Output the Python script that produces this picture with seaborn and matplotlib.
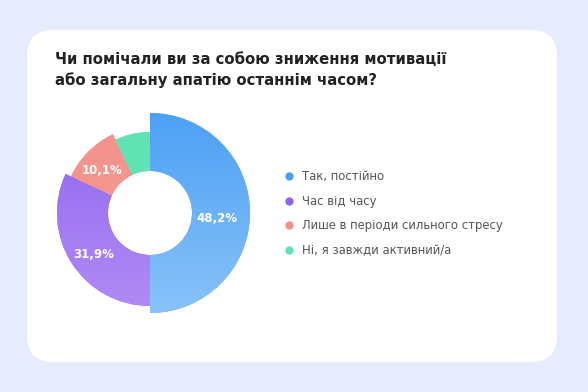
import matplotlib.pyplot as plt
import numpy as np
import seaborn as sns
from matplotlib.colors import LinearSegmentedColormap
from matplotlib.lines import Line2D
from matplotlib.patches import FancyBboxPatch

sns.set_theme(style='white')
plt.rcParams['font.family'] = ['DejaVu Sans']

title = 'Чи помічали ви за собою зниження мотивації\nабо загальну апатію останнім часом?'
answers = ['Так, постійно', 'Час від часу', 'Лише в періоди сильного стресу', 'Ні, я завжди активний/а']
pct_labels = ['48,2%', '31,9%', '10,1%', '']
# сектора на картинке нарисованы не строго по подписям - доли
drawn_shares = [50.0, 31.9, 11.1, 7.0]

# стиль: верх/низ градиента, внешний радиус
top_colors = ['#4a9ff5', '#8e64f0', '#f3928a', '#5fe3b3']
bottom_colors = ['#8cc4f9', '#b28ef5', '#f49d94', '#66e5b8']
radii = [1.0, 0.93, 0.87, 0.81]
inner = 0.42

fig = plt.figure(figsize=(5.88, 3.92), dpi=100)
fig.patch.set_facecolor('#e6ecfb')
card = FancyBboxPatch((27 / 588, 30 / 392), 530 / 588, 332 / 392,
                      boxstyle='round,pad=0,rounding_size=0.045', transform=fig.transFigure,
                      facecolor='white', edgecolor='none', mutation_aspect=588 / 392, zorder=-5)
fig.patches.append(card)

fig.text(55 / 588, 1 - 52 / 392, title, ha='left', va='top', fontsize=10.7, fontweight='bold',
         color='#222222', linespacing=1.45)

ax = fig.add_axes([40 / 588, (392 - 213 - 110) / 392, 220 / 588, 220 / 392])
ax.set_zorder(2)
start = 90
grad = np.linspace(0, 1, 256).reshape(-1, 1)
for share, pct, r, c1, c2 in zip(drawn_shares, pct_labels, radii, top_colors, bottom_colors):
    wedges, _ = ax.pie([share / 100], normalize=False, startangle=start, counterclock=False,
                       radius=r, colors=[c1],
                       wedgeprops=dict(width=r - inner, edgecolor='none'))
    w = wedges[0]
    cmap = LinearSegmentedColormap.from_list('g', [c1, c2])
    im = ax.imshow(grad, cmap=cmap, extent=(-1.1, 1.1, -1.1, 1.1), origin='upper',
                   aspect='auto', zorder=1.5)
    im.set_clip_path(w)
    mid = np.deg2rad(start - share * 3.6 / 2)
    if pct:
        ax.text(0.67 * np.cos(mid), 0.67 * np.sin(mid) - 0.05, pct, ha='center', va='center',
                color='white', fontsize=8.5, fontweight='bold', zorder=3)
    start -= share * 3.6
ax.set_xlim(-1.1, 1.1)
ax.set_ylim(-1.1, 1.1)
ax.set_aspect('equal')
ax.axis('off')

handles = [Line2D([], [], marker='o', linestyle='none', markersize=6, markerfacecolor=c,
                  markeredgecolor='none') for c in top_colors]
fig.legend(handles, answers, loc='upper left', bbox_to_anchor=(285 / 588, 1 - 170 / 392),
           frameon=False, fontsize=8.4, labelcolor='#555555', handlelength=0.7,
           handletextpad=0.75, labelspacing=1.0, borderpad=0, borderaxespad=0)

fig.savefig('out.png', dpi=100, facecolor=fig.get_facecolor())
